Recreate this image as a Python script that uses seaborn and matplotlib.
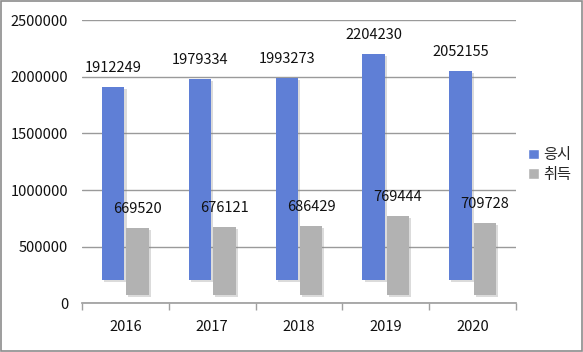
import pandas as pd
import matplotlib.pyplot as plt
import matplotlib.patheffects as pe
from matplotlib.ticker import FixedLocator
import seaborn as sns

# Data
years = ["2016", "2017", "2018", "2019", "2020"]
applied = [1912249, 1979334, 1993273, 2204230, 2052155]   # 응시
acquired = [669520, 676121, 686429, 769444, 709728]       # 취득
series = ["응시", "취득"]

df = pd.DataFrame({
    "year": years * 2,
    "value": applied + acquired,
    "series": [series[0]] * len(years) + [series[1]] * len(years),
})

sns.set_theme(style="white")
plt.rcParams["font.family"] = ["Noto Sans CJK KR", "DejaVu Sans"]

colors = {"응시": "#5f7fd6", "취득": "#b2b2b2"}
# the original (Excel) bars float slightly above the axis
floor = {"응시": 210000, "취득": 75000}

fig = plt.figure(figsize=(5.83, 3.52), dpi=100)
ax = fig.add_axes([0.1407, 0.1378, 0.885 - 0.1407, 0.943 - 0.1378])

sns.barplot(data=df, x="year", y="value", hue="series", palette=colors,
            saturation=1, width=0.56, gap=0.08, ax=ax, legend=True)

shadow = [pe.SimplePatchShadow(offset=(1.5, -1.5), shadow_rgbFace="#888888", alpha=0.3), pe.Normal()]
for cont, name in zip(ax.containers, series):
    for bar in cont:
        top = bar.get_y() + bar.get_height()
        bar.set_y(floor[name])
        bar.set_height(top - floor[name])
        bar.set_path_effects(shadow)
        bar.set_edgecolor("none")
        bar.set_linewidth(0)
    vals = applied if name == series[0] else acquired
    ax.bar_label(cont, labels=[str(v) for v in vals], padding=8.5, fontsize=10.5, color="#111111")

ax.set_ylim(0, 2500000)
ax.set_xlim(-0.5, len(years) - 0.5)
ax.set_yticks(range(0, 2500001, 500000))
ax.set_yticklabels([str(v) for v in range(0, 2500001, 500000)])
ax.yaxis.grid(True, color="#9a9a9a", linewidth=1)
ax.set_axisbelow(True)
ax.set_xlabel("")
ax.set_ylabel("")
for s in ["left", "right", "top"]:
    ax.spines[s].set_visible(False)
ax.spines["bottom"].set_color("#a0a0a0")
ax.tick_params(axis="both", labelsize=10.5, colors="#111111", length=0, pad=10)
ax.xaxis.set_minor_locator(FixedLocator([i - 0.5 for i in range(len(years) + 1)]))
ax.tick_params(axis="x", which="minor", length=5, color="#a0a0a0", bottom=True)
ax.tick_params(axis="x", which="major", pad=12)

ax.legend(loc="center left", bbox_to_anchor=(1.0, 0.49), frameon=False,
          fontsize=11, handlelength=0.7, handleheight=0.7, handletextpad=0.3,
          labelspacing=0.15, borderaxespad=0.4)

# light gray outer frame
fig.patches.append(plt.Rectangle((0.002, 0.003), 0.996, 0.994, transform=fig.transFigure,
                                 fill=False, edgecolor="#8c8c8c", linewidth=1.2))

fig.savefig("out.png", dpi=100)
